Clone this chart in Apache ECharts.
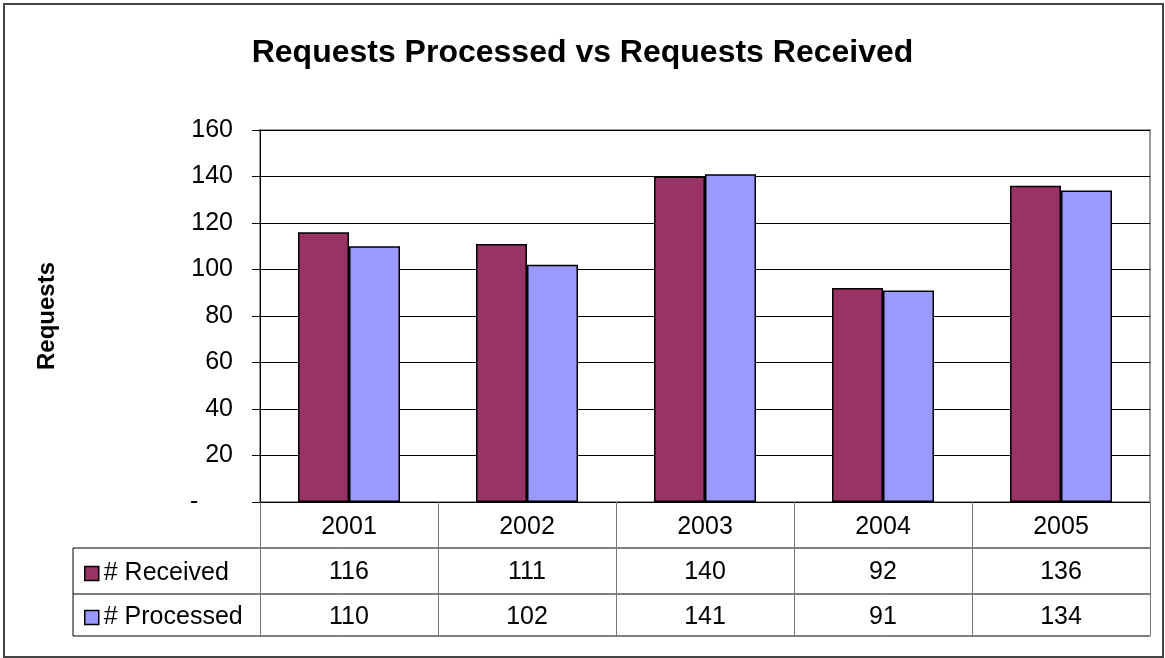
<!DOCTYPE html>
<html>
<head>
<meta charset="utf-8">
<script src="https://cdn.jsdelivr.net/npm/echarts@6/dist/echarts.min.js"></script>
<style>
  html, body { margin: 0; padding: 0; background: #fff; }
  #main { width: 1165px; height: 658px; }
</style>
</head>
<body>
<div id="main"></div>
<script>
// data
const years = ['2001', '2002', '2003', '2004', '2005']
const received = [116, 111, 140, 92, 136]
const processed = [110, 102, 141, 91, 134]
const seriesNames = ['# Received', '# Processed']

const FONT = 'Liberation Sans, Arial, sans-serif'
const chart = echarts.init(document.getElementById('main'))

// table lines under the plot (x = 73..1150)
const tableLines = [548, 594, 636].map(y => ({
  type: 'line',
  shape: {x1: 73, y1: y, x2: 1150, y2: y},
  style: {stroke: '#000', lineWidth: 1}
}))

// one legend per table row so each key sits in its own row
const legendRow = (name, top) => ({
  data: [name],
  orient: 'vertical',
  left: 79,
  top: top,
  itemWidth: 14,
  itemHeight: 14,
  icon: 'rect',
  itemStyle: {borderColor: '#000', borderWidth: 1.5},
  textStyle: {fontFamily: FONT, fontSize: 25, color: '#000'}
})

chart.setOption({
  animation: false,
  backgroundColor: '#fff',
  title: {
    text: 'Requests Processed vs Requests Received',
    left: 'center',
    top: 32,
    textStyle: {fontFamily: FONT, fontSize: 32, fontWeight: 'bold', color: '#000'}
  },
  legend: [legendRow(seriesNames[0], 556), legendRow(seriesNames[1], 600)],
  grid: {
    left: 260, right: 15, top: 130, bottom: 156,
    show: true, borderColor: '#999', borderWidth: 2
  },
  xAxis: {
    type: 'category',
    data: years,
    axisLine: {lineStyle: {color: '#000', width: 1}},
    axisTick: {show: true, length: 134, interval: 0, lineStyle: {color: '#777'}},
    axisLabel: {
      interval: 0,
      margin: 3,
      formatter: (v, i) => `{a|${v}}\n{a|${received[i]}}\n{a|${processed[i]}}`,
      rich: {a: {fontFamily: FONT, fontSize: 25, color: '#000', lineHeight: 45}}
    }
  },
  yAxis: {
    type: 'value',
    min: 0, max: 160, interval: 20,
    name: 'Requests',
    nameLocation: 'middle',
    nameRotate: 90,
    nameGap: 201,
    nameTextStyle: {fontFamily: FONT, fontSize: 24, fontWeight: 'bold', color: '#000'},
    axisLine: {show: true, lineStyle: {color: '#000', width: 1}},
    axisTick: {show: true, length: 8, lineStyle: {color: '#000'}},
    axisLabel: {
      margin: 27,
      fontFamily: FONT, fontSize: 25, color: '#000',
      formatter: v => v === 0 ? '-     ' : String(v)
    },
    splitLine: {lineStyle: {color: '#000', width: 1}}
  },
  series: [
    {
      name: seriesNames[0],
      type: 'bar',
      data: received,
      barWidth: 51,
      barGap: '0%',
      itemStyle: {color: '#993366', borderColor: '#000', borderWidth: 1.5}
    },
    {
      name: seriesNames[1],
      type: 'bar',
      data: processed,
      barWidth: 51,
      itemStyle: {color: '#9999FF', borderColor: '#000', borderWidth: 1.5}
    }
  ],
  graphic: [
    {
      type: 'rect',
      shape: {x: 4, y: 4, width: 1159, height: 653},
      style: {fill: 'none', stroke: '#444', lineWidth: 2},
      silent: true
    },
    ...tableLines,
    {
      type: 'line',
      shape: {x1: 73, y1: 548, x2: 73, y2: 636},
      style: {stroke: '#000', lineWidth: 1}
    }
  ]
})
</script>
</body>
</html>
